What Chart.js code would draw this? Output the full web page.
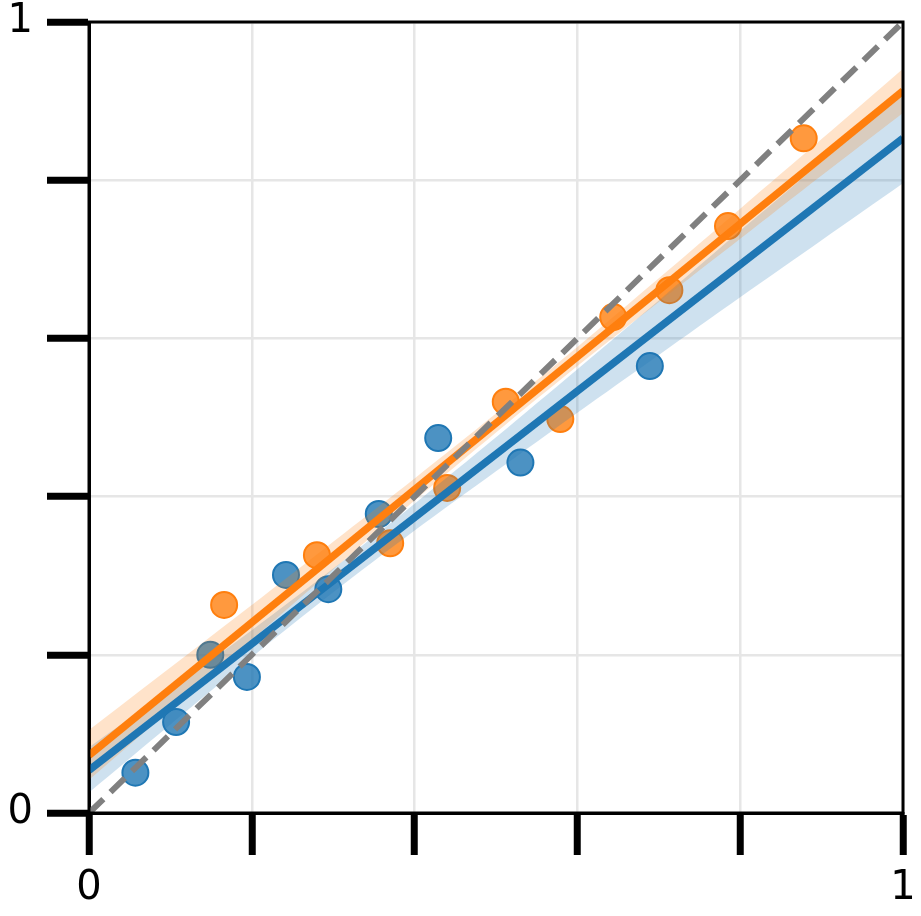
<!DOCTYPE html>
<html><head><meta charset="utf-8">
<script src="https://cdn.jsdelivr.net/npm/chart.js@4.4.0/dist/chart.umd.min.js"></script>
<style>html,body{margin:0;padding:0;background:#fff;}</style>
</head><body>
<canvas id="c" width="921" height="916"></canvas>
<script>
// Scatter data
const blueX = [0.057, 0.107, 0.149, 0.194, 0.242, 0.294, 0.356, 0.429, 0.530, 0.689];
const blueY = [0.051, 0.115, 0.200, 0.172, 0.301, 0.283, 0.378, 0.474, 0.443, 0.565];
const orangeX = [0.166, 0.280, 0.370, 0.440, 0.512, 0.579, 0.644, 0.713, 0.785, 0.878];
const orangeY = [0.263, 0.326, 0.341, 0.411, 0.520, 0.498, 0.627, 0.661, 0.742, 0.853];

// Fitted lines (endpoints at x = 0 and x = 1)
const lineX = [0, 1];
const blueFit = [0.054, 0.853];
const orangeFit = [0.073, 0.913];

// Confidence bands (read at x = 0, 0.1, ..., 1)
const bandX = [0, 0.1, 0.2, 0.3, 0.4, 0.5, 0.6, 0.7, 0.8, 0.9, 1.0];
const blueLower = [0.026, 0.112, 0.197, 0.279, 0.357, 0.432, 0.506, 0.579, 0.652, 0.724, 0.796];
const blueUpper = [0.083, 0.156, 0.231, 0.309, 0.391, 0.475, 0.561, 0.648, 0.736, 0.823, 0.910];
const orangeLower = [0.042, 0.131, 0.219, 0.308, 0.395, 0.481, 0.565, 0.646, 0.726, 0.806, 0.885];
const orangeUpper = [0.105, 0.184, 0.263, 0.343, 0.423, 0.505, 0.589, 0.676, 0.764, 0.852, 0.941];

// Identity line
const diagX = [0, 1];
const diagY = [0, 1];

// Tick labels shown
const tickValues = [0, 0.2, 0.4, 0.6, 0.8, 1];
const tickLabels = ['0', '', '', '', '', '1'];

const BLUE = '#1f77b4', ORANGE = '#ff7f0e';
const pts = (xs, ys) => xs.map((x, i) => ({x: x, y: ys[i]}));

function tickText(v) {
  for (let i = 0; i < tickValues.length; i++) {
    if (Math.abs(v - tickValues[i]) < 1e-6) return tickLabels[i];
  }
  return '';
}

const frame = {
  id: 'frame',
  afterDraw(chart) {
    const a = chart.chartArea, ctx = chart.ctx;
    ctx.save();
    ctx.strokeStyle = '#000';
    ctx.lineWidth = 3;
    ctx.strokeRect(a.left, a.top, a.right - a.left, a.bottom - a.top);
    ctx.restore();
  }
};

const bandStyle = {showLine: true, pointRadius: 0, borderWidth: 0, tension: 0.3};

new Chart(document.getElementById('c'), {
  type: 'scatter',
  data: {
    datasets: [
      {data: pts(blueX, blueY), backgroundColor: 'rgba(31,119,180,0.8)', borderColor: BLUE, borderWidth: 2, pointRadius: 13, order: 10},
      {data: pts(orangeX, orangeY), backgroundColor: 'rgba(255,127,14,0.8)', borderColor: ORANGE, borderWidth: 2, pointRadius: 13, order: 10},
      Object.assign({data: pts(bandX, blueLower), fill: false, borderColor: 'rgba(0,0,0,0)', order: 6}, bandStyle),
      Object.assign({data: pts(bandX, blueUpper), fill: '-1', backgroundColor: 'rgba(31,119,180,0.22)', borderColor: 'rgba(0,0,0,0)', order: 6}, bandStyle),
      Object.assign({data: pts(bandX, orangeLower), fill: false, borderColor: 'rgba(0,0,0,0)', order: 5}, bandStyle),
      Object.assign({data: pts(bandX, orangeUpper), fill: '-1', backgroundColor: 'rgba(255,127,14,0.22)', borderColor: 'rgba(0,0,0,0)', order: 5}, bandStyle),
      {data: pts(lineX, blueFit), showLine: true, pointRadius: 0, borderColor: BLUE, borderWidth: 7.5, order: 3},
      {data: pts(lineX, orangeFit), showLine: true, pointRadius: 0, borderColor: ORANGE, borderWidth: 7.5, order: 2},
      {data: pts(diagX, diagY), showLine: true, pointRadius: 0, borderColor: '#808080', borderWidth: 6, borderDash: [20, 10], order: 1}
    ]
  },
  options: {
    responsive: false,
    devicePixelRatio: 1,
    animation: false,
    layout: {padding: {left: 0, right: 18, top: 22, bottom: 0}},
    plugins: {legend: {display: false}, tooltip: {enabled: false}},
    scales: {
      x: {
        type: 'linear', min: 0, max: 1,
        afterBuildTicks: s => { s.ticks = tickValues.map(v => ({value: v})); },
        ticks: {callback: tickText, font: {family: 'DejaVu Sans', size: 40}, color: '#000', padding: 10, maxRotation: 0, autoSkip: false},
        grid: {color: '#e6e6e6', lineWidth: 2.5, tickLength: 42, tickColor: '#000', tickWidth: 7},
        border: {display: true, color: '#000', width: 3},
        afterFit: s => { s.height = 103; s.paddingLeft = 0; s.paddingRight = 0; }
      },
      y: {
        type: 'linear', min: 0, max: 1,
        afterBuildTicks: s => { s.ticks = tickValues.map(v => ({value: v})); },
        ticks: {callback: tickText, font: {family: 'DejaVu Sans', size: 40}, color: '#000', padding: 14, autoSkip: false},
        grid: {color: '#e6e6e6', lineWidth: 2.5, tickLength: 42, tickColor: '#000', tickWidth: 7},
        border: {display: true, color: '#000', width: 3},
        afterFit: s => { s.width = 89; s.paddingTop = 0; s.paddingBottom = 0; }
      }
    }
  },
  plugins: [frame]
});
</script>
</body></html>
